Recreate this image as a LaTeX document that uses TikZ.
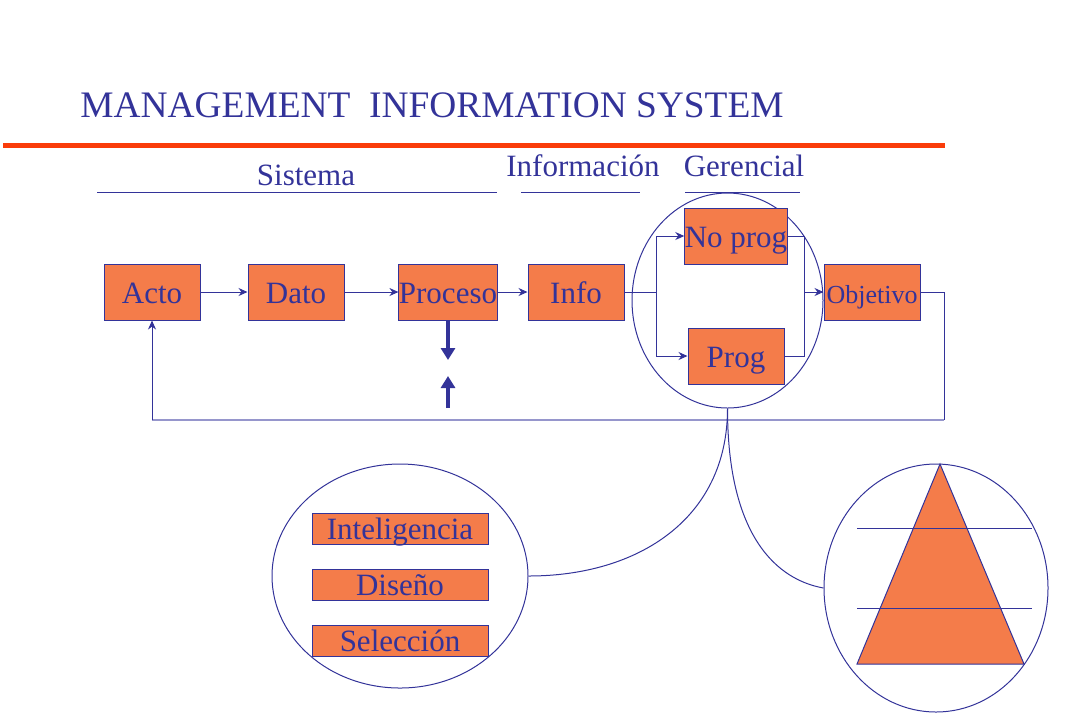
\documentclass[tikz,border=0pt]{standalone}
\usepackage{fontspec}
\setmainfont{Liberation Serif}
\usetikzlibrary{calc, positioning, shapes.geometric}
\usetikzlibrary{arrows, arrows.meta}
\definecolor{ink}{RGB}{51,51,153}
\definecolor{paleink}{RGB}{150,150,204}
\definecolor{boxfill}{RGB}{244,124,74}
\definecolor{redrule}{RGB}{250,60,10}
\tikzset{
  font=\fontsize{15.5}{18}\selectfont,
  % Set arrowhead
  >={Stealth[length=4.5pt, width=4pt]},
  % Thin connector
  wire/.style={line width=0.5pt},
  % Process box
  box/.style={draw, fill=boxfill, minimum width=48pt, minimum height=28pt,
    inner sep=0pt, text height=11pt, text depth=0pt, line width=0.5pt},
  % Box inside the decision lens
  sbox/.style={box, minimum width=88pt, minimum height=15.5pt,
    text height=13pt, text depth=2pt},
  % Magnifying ellipse
  lens/.style={draw, shape=ellipse, inner sep=0pt, line width=0.5pt},
  % Bold arrows
  bold->/.style={line width=2pt, -{Triangle[length=6pt, width=7pt]}},
}
\begin{document}
\begin{tikzpicture}[x=0.5pt, y=-0.5pt, color=ink]
  \useasboundingbox (0,0) rectangle (1080,720);

  % title and rule
  \node[anchor=base west, inner sep=0pt, font=\fontsize{18.7}{22}\selectfont] (title)
    at (80,117) {MANAGEMENT\ \ INFORMATION SYSTEM};
  \draw[redrule, line width=2.5pt] (3,145) -- (945,145);

  % heading words
  \node[anchor=base] (sist) at (306,185) {Sistema};
  \node[anchor=base] (inf) at (583,176) {Información};
  \node[anchor=base] (ger) at (744,176) {Gerencial};
  \draw[wire] (97,192) -- (497,192);
  \draw[wire] (521,192) -- (640,192);
  \draw[wire] (685,192) -- (800,192);

  % decision lens
  \node[lens, minimum width=95.5pt, minimum height=107.5pt] (sel) at (727.5,300.5) {};

  % main chain
  \node[box] (acto) at (152,292) {Acto};
  \node[box] (dato) at (296,292) {Dato};
  \node[box] (proc) at (448,292) {Proceso};
  \node[box] (info) at (576,292) {Info};
  \node[box] (noprog) at (736,236) {No prog};
  \node[box] (prog) at (736,356) {Prog};
  \node[box, font=\fontsize{13}{15}\selectfont] (obj) at (872,292) {Objetivo};

  \coordinate (split) at (656,292);
  \coordinate (merge) at (804,292);
  \coordinate (fbR) at (944,420);
  \coordinate (fbL) at (152,420);

  \draw[wire, ->] (acto) -- (dato);
  \draw[wire, ->] (dato) -- (proc);
  \draw[wire, ->] (proc) -- (info);
  \draw[wire] (info) -- (split);
  \draw[wire, ->] (split) |- (noprog);
  \draw[wire, ->] (split) |- (prog);
  \draw[wire] (noprog) -| (merge);
  \draw[wire] (prog) -| (merge);
  \draw[wire, ->] (merge) -- (obj);
  \draw[wire] (obj) -| (fbR);
  \draw[paleink, line width=1.2pt] (fbR) -- (fbL);
  \draw[wire, ->] (fbL) -- (acto);

  % in and out of the process
  \coordinate (dn) at (448,360);
  \coordinate (upfoot) at (448,408);
  \coordinate (uptip) at (448,376);
  \draw[bold->] (proc) -- (dn);
  \draw[bold->] (upfoot) -- (uptip);

  % decision phases
  \node[lens, minimum width=128pt, minimum height=112pt] (dec) at (400,576) {};
  \node[sbox] (intel) at (400,528.5) {Inteligencia};
  \node[sbox] (dis) at (400,584.5) {Diseño};
  \node[sbox] (elec) at (400,640.5) {Selección};

  % pyramid
  \node[lens, minimum width=112pt, minimum height=124pt] (pyr) at (936,588) {};
  \draw[wire, fill=boxfill] (940,464) -- (1024,664) -- (857,664) -- cycle;
  \draw[wire] (857,528) -- (1032,528);
  \draw[wire] (857,608) -- (1032,608);

  % links to the lenses
  \draw[wire] (sel.south) .. controls +(0,110) and +(110,0) .. (dec.east);
  \draw[wire] (sel.south) .. controls +(0,130) and +(-45,-8) .. (pyr.west);
\end{tikzpicture}
\end{document}
